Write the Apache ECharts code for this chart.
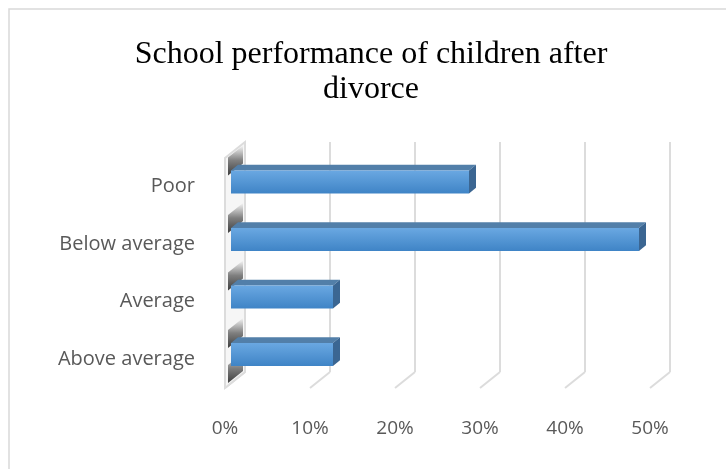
<!DOCTYPE html>
<html>
<head>
<meta charset="utf-8">
<script src="https://cdn.jsdelivr.net/npm/echarts@6/dist/echarts.min.js"></script>
<style>
  html, body { margin: 0; padding: 0; background: #fff; }
  #chart { width: 726px; height: 469px; }
</style>
</head>
<body>
<div id="chart"></div>
<script>
// Survey categories, listed top to bottom
const categories = ['Poor', 'Below average', 'Average', 'Above average'];
// Share of children in each category (percent)
const shares = [28, 48, 12, 12];
// Value axis ticks (percent)
const axisTicks = [0, 10, 20, 30, 40, 50];

const chart = echarts.init(document.getElementById('chart'));

// Oblique projection used for the 3-D look: the back wall is the cartesian grid,
// the floor comes toward the viewer by (DEPTH_X, DEPTH_Y).
const DEPTH_X = -20, DEPTH_Y = 16;
const BAR_FRONT = 0.7, BAR_BACK = 0.35;   // depth fractions of a bar's faces
const BAR_RATIO = 0.4;                     // bar thickness relative to the band

function wallShadow(xr, xl, yRight) {
  // dark patch on the left wall, sloping with the depth direction
  const slope = DEPTH_Y / -DEPTH_X;
  const yl = yRight + (xr - xl) * slope;
  return {
    type: 'polygon',
    shape: { points: [[xr, yRight], [xr, yRight + 18], [xl, yl + 18], [xl, yl]] },
    style: {
      fill: new echarts.graphic.LinearGradient(0, 0, 0, 1, [
        { offset: 0, color: 'rgba(30,30,30,0)' },
        { offset: 0.5, color: 'rgba(30,30,30,0.55)' },
        { offset: 1, color: 'rgba(30,30,30,0.85)' }
      ])
    },
    z2: 1
  };
}

function renderBar(params, api) {
  const idx = api.value(0);
  const v = api.value(1);
  const a = api.coord([0, idx]);
  const b = api.coord([v, idx]);
  const band = api.size([0, 1])[1];
  const h = band * BAR_RATIO;
  const fx = DEPTH_X * BAR_FRONT, fy = DEPTH_Y * BAR_FRONT;
  const dx = DEPTH_X * (BAR_BACK - BAR_FRONT), dy = DEPTH_Y * (BAR_BACK - BAR_FRONT);
  const x0 = a[0] + fx, x1 = b[0] + fx;
  const yTop = a[1] + fy - h / 2, yBot = yTop + h;
  const cs = params.coordSys;
  const xr = cs.x - 2, xl = cs.x + DEPTH_X + 3;
  const children = [wallShadow(xr, xl, yTop - 25)];
  if (params.dataIndex === params.dataInsideLength - 1) {
    children.push(wallShadow(xr, xl, yBot - 13));
  }
  children.push(
    {
      type: 'polygon',
      shape: { points: [[x0, yTop], [x1, yTop], [x1 + dx, yTop + dy], [x0 + dx, yTop + dy]] },
      style: { fill: '#527fa9' },
      z2: 3
    },
    {
      type: 'polygon',
      shape: { points: [[x1, yTop], [x1 + dx, yTop + dy], [x1 + dx, yBot + dy], [x1, yBot]] },
      style: { fill: '#3b6692' },
      z2: 3
    },
    {
      type: 'rect',
      shape: { x: x0, y: yTop, width: x1 - x0, height: h },
      style: {
        fill: new echarts.graphic.LinearGradient(0, 0, 0, 1, [
          { offset: 0, color: '#6aa8e2' },
          { offset: 1, color: '#3f84c6' }
        ])
      },
      z2: 4
    }
  );
  return { type: 'group', children: children };
}

// Left wall and floor diagonals drawn from the axis ticks
function renderFloor(params, api) {
  const t = api.value(0);
  const cs = params.coordSys;
  const x = api.coord([t, 0])[0];
  const yb = cs.y + cs.height;
  const children = [{
    type: 'line',
    shape: { x1: x, y1: yb, x2: x + DEPTH_X, y2: yb + DEPTH_Y },
    style: { stroke: '#dcdcdc', lineWidth: 2 }
  }];
  if (t === 0) {
    children.push({
      type: 'polygon',
      shape: { points: [[x, cs.y], [x + DEPTH_X, cs.y + DEPTH_Y], [x + DEPTH_X, yb + DEPTH_Y], [x, yb]] },
      style: { fill: '#f6f6f6', stroke: '#dcdcdc', lineWidth: 2 }
    });
  }
  return { type: 'group', children: children };
}

chart.setOption({
  animation: false,
  title: {
    text: 'School performance of children after\ndivorce',
    left: 366,
    top: 32,
    textAlign: 'center',
    textStyle: {
      fontFamily: 'Liberation Serif',
      fontSize: 32,
      lineHeight: 35,
      fontWeight: 'normal',
      color: '#000'
    }
  },
  graphic: [{
    type: 'rect',
    shape: { x: 9, y: 9, width: 800, height: 600 },
    style: { fill: 'none', stroke: '#d9d9d9', lineWidth: 1.5 },
    z: -10
  }],
  grid: [
    { left: 245, top: 142, width: 425, height: 230 },
    { left: 245 + DEPTH_X, top: 142 + DEPTH_Y, width: 425, height: 230 }
  ],
  xAxis: [
    {
      gridIndex: 0, type: 'value', min: 0, max: 50, interval: 10,
      axisLine: { show: false }, axisTick: { show: false }, axisLabel: { show: false },
      splitLine: { show: true, lineStyle: { color: '#dcdcdc', width: 2 } }
    },
    {
      gridIndex: 1, type: 'value', min: 0, max: 50, interval: 10,
      axisLine: { show: false }, axisTick: { show: false }, splitLine: { show: false },
      axisLabel: {
        margin: 31, formatter: '{value}%',
        fontFamily: 'Open Sans', fontSize: 19, color: '#595959'
      }
    }
  ],
  yAxis: [
    {
      gridIndex: 0, type: 'category', data: categories, inverse: true,
      axisLine: { show: false }, axisTick: { show: false }, axisLabel: { show: false },
      splitLine: { show: false }
    },
    {
      gridIndex: 1, type: 'category', data: categories, inverse: true,
      axisLine: { show: false }, axisTick: { show: false }, splitLine: { show: false },
      axisLabel: { margin: 30, fontFamily: 'Open Sans', fontSize: 20, color: '#595959' }
    }
  ],
  series: [
    {
      type: 'custom',
      xAxisIndex: 0, yAxisIndex: 0,
      renderItem: renderFloor,
      encode: { x: 0, y: 1 },
      data: axisTicks.map(t => [t, categories[0]]),
      z: 1
    },
    {
      type: 'custom',
      xAxisIndex: 0, yAxisIndex: 0,
      renderItem: renderBar,
      encode: { x: 1, y: 0 },
      data: categories.map((c, i) => [c, shares[i]]),
      z: 5
    }
  ]
});
</script>
</body>
</html>
